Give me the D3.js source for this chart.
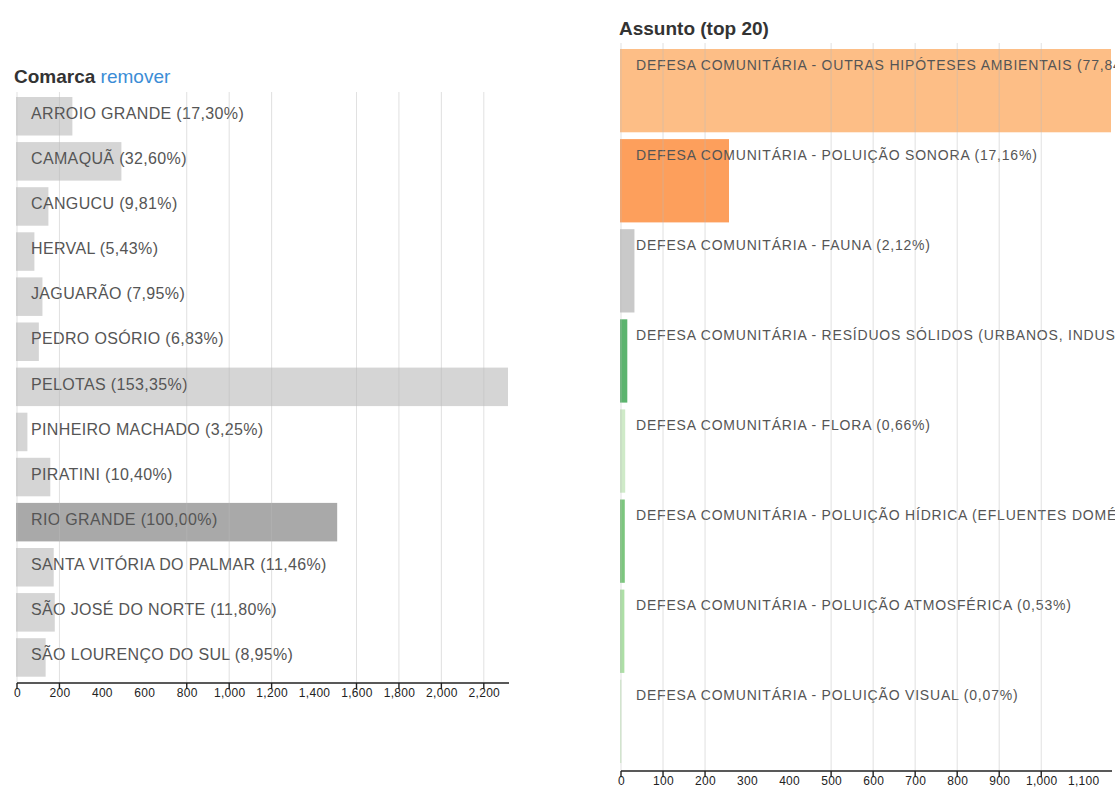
<!DOCTYPE html>
<meta charset="utf-8">
<style>
body { margin: 0; background: #fff; }
text { font-family: "Liberation Sans", Arial, sans-serif; }
</style>
<svg width="1115" height="794"></svg>
<script src="https://d3js.org/d3.v7.min.js"></script>
<script>

// Comarca (left chart)
var comarcas = ["ARROIO GRANDE", "CAMAQUÃ", "CANGUCU", "HERVAL", "JAGUARÃO", "PEDRO OSÓRIO", "PELOTAS",
                "PINHEIRO MACHADO", "PIRATINI", "RIO GRANDE", "SANTA VITÓRIA DO PALMAR", "SÃO JOSÉ DO NORTE", "SÃO LOURENÇO DO SUL"];
var comarcaValues = [261, 492, 148, 82, 120, 103, 2314, 49, 157, 1509, 173, 178, 135];
var comarcaPct = [17.30, 32.60, 9.81, 5.43, 7.95, 6.83, 153.35, 3.25, 10.40, 100.00, 11.46, 11.80, 8.95];
var comarcaSelected = "RIO GRANDE";
var comarcaTicks = [0, 200, 400, 600, 800, 1000, 1200, 1400, 1600, 1800, 2000, 2200];
var comarcaGrid = [0, 200, 800, 1000, 1200, 1600, 1800, 2000, 2200];

// Assunto (right chart)
var assuntos = ["DEFESA COMUNITÁRIA - OUTRAS HIPÓTESES AMBIENTAIS",
                "DEFESA COMUNITÁRIA - POLUIÇÃO SONORA",
                "DEFESA COMUNITÁRIA - FAUNA",
                "DEFESA COMUNITÁRIA - RESÍDUOS SÓLIDOS (URBANOS, INDUSTRIAIS E HOSPITALARES)",
                "DEFESA COMUNITÁRIA - FLORA",
                "DEFESA COMUNITÁRIA - POLUIÇÃO HÍDRICA (EFLUENTES DOMÉSTICOS E INDUSTRIAIS)",
                "DEFESA COMUNITÁRIA - POLUIÇÃO ATMOSFÉRICA",
                "DEFESA COMUNITÁRIA - POLUIÇÃO VISUAL"];
var assuntoValues = [1166, 257, 32, 15, 10, 9, 8, 1];
var assuntoPct = [77.84, 17.16, 2.12, 1.00, 0.66, 0.60, 0.53, 0.07];
var assuntoColors = ["#fdbe86", "#fd9f5c", "#c9c9c9", "#5cb46e", "#cfeac8", "#7cc67e", "#addfa6", "#d9f0d3"];
var assuntoTicks = [0, 100, 200, 300, 400, 500, 600, 700, 800, 900, 1000, 1100];
var assuntoGrid = [0, 100, 200, 500, 600, 700, 800, 900, 1000];

var svg = d3.select("svg");
var pctFmt = function(v) { return d3.format(".2f")(v).replace(".", ","); };

function rowChart(o) {
  var g = svg.append("g");

  var x = d3.scaleLinear().domain([0, d3.max(o.values)]).range([o.x0, o.x1]);
  var y = d3.scaleBand().domain(o.names).range([o.y0, o.y1])
      .paddingInner(o.pad).paddingOuter(o.pad / 2);

  var rows = g.selectAll(".row").data(o.names).enter().append("g")
      .attr("transform", function(d) { return "translate(0," + y(d) + ")"; });

  rows.append("rect")
      .attr("x", x(0) - 1)
      .attr("width", function(d, i) { return x(o.values[i]) - x(0) + 1; })
      .attr("height", y.bandwidth())
      .attr("fill", o.color);

  rows.append("text")
      .attr("x", x(0) + o.labelDx)
      .attr("y", o.labelDy)
      .attr("fill", "#555")
      .style("font-size", o.fontSize)
      .style("letter-spacing", o.spacing)
      .text(function(d, i) { return d + " (" + pctFmt(o.pct[i]) + "%)"; });

  // grid on top, like the original
  g.append("g").selectAll("line").data(o.grid).enter().append("line")
      .attr("x1", x).attr("x2", x)
      .attr("y1", o.gridTop).attr("y2", o.axisY)
      .attr("stroke", "#bbb").attr("stroke-opacity", 0.45);

  var axis = g.append("g")
      .attr("transform", "translate(0," + o.axisY + ")")
      .call(d3.axisBottom(x).tickValues(o.ticks).tickFormat(d3.format(",")).tickSize(0).tickPadding(5));
  axis.select(".domain").attr("stroke", "#222").attr("stroke-width", 1.4).attr("d", "M" + o.x0 + ",0H" + (o.x1 + 1));
  axis.selectAll("text").attr("fill", "#222").style("font-size", "12px").style("letter-spacing", "0.3px")
      .attr("font-family", null);

  axis.selectAll(".mark").data(o.grid).enter().append("line")
      .attr("x1", x).attr("x2", x).attr("y1", 0).attr("y2", 6)
      .attr("stroke", "#222").attr("stroke-width", 1.4);
}

// titles
var t1 = svg.append("text").attr("x", 14).attr("y", 83).style("font-size", "19px");
t1.append("tspan").attr("font-weight", "bold").attr("fill", "#333").text("Comarca");
t1.append("tspan").attr("fill", "#3b8dd6").text(" remover");

svg.append("text").attr("x", 619).attr("y", 35).style("font-size", "19px")
    .attr("font-weight", "bold").attr("fill", "#333").text("Assunto (top 20)");

rowChart({
  names: comarcas, values: comarcaValues, pct: comarcaPct,
  color: function(d) { return d === comarcaSelected ? "#a9a9a9" : "#d5d5d5"; },
  x0: 17, x1: 508, y0: 93.7, y1: 680, pad: 0.146,
  ticks: comarcaTicks, grid: comarcaGrid, gridTop: 92, axisY: 683,
  labelDx: 14, labelDy: 22, fontSize: "16px", spacing: "0.35px"
});

rowChart({
  names: assuntos, values: assuntoValues, pct: assuntoPct,
  color: function(d, i) { return assuntoColors[i]; },
  x0: 621, x1: 1111, y0: 45.6, y1: 766.4, pad: 0.0755,
  ticks: assuntoTicks, grid: assuntoGrid, gridTop: 43, axisY: 771,
  labelDx: 15, labelDy: 20.5, fontSize: "14px", spacing: "0.8px"
});

</script>
